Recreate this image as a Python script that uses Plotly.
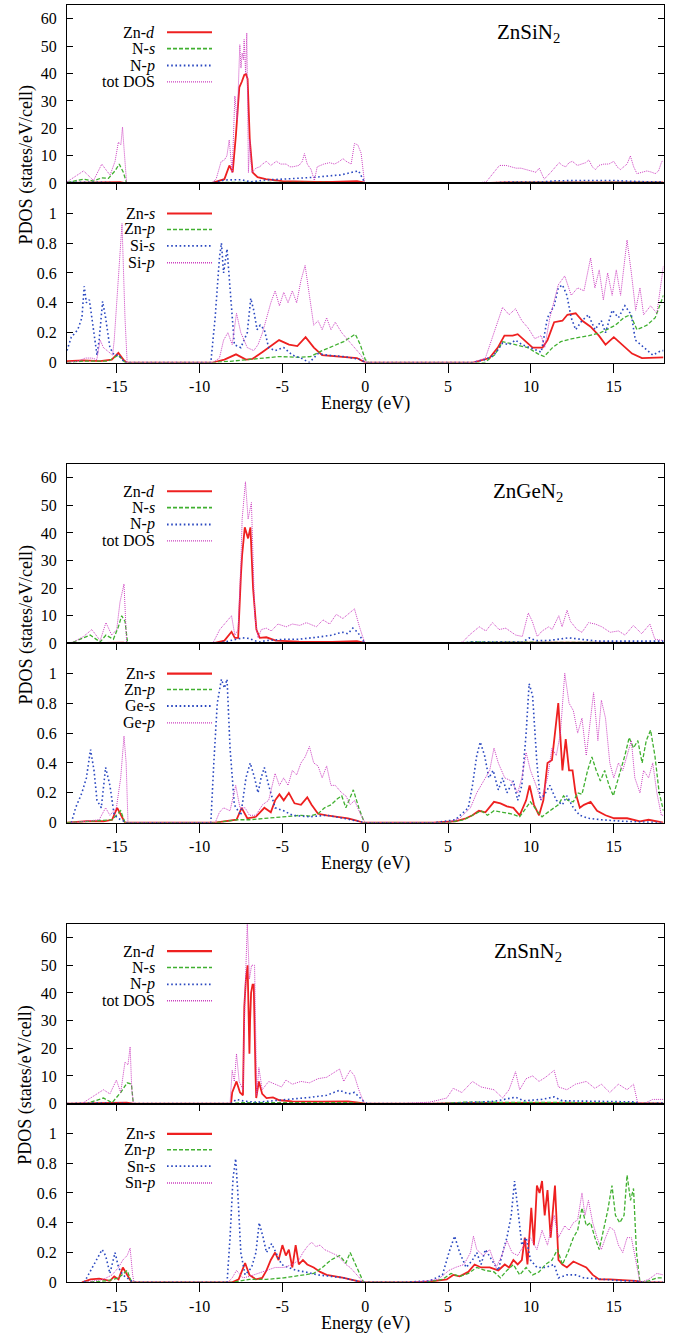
import plotly.graph_objects as go

# ---------------- data (energy eV, PDOS) ----------------
# ZnSiN2 upper panel
SI_ZN_D = [(-18,0.1),(-15.2,0.2),(-14.8,0.4),(-14.4,0),(-9.3,0),(-8.8,1.0),(-8.5,1.5),(-8.2,6.5),(-8.0,4.0),(-7.8,18),(-7.6,35),(-7.45,37),(-7.3,39.5),(-7.2,39.8),(-7.1,38),(-6.97,16),(-6.8,4),(-6.5,2.2),(-6.0,1.5),(-5.0,0.8),(-4.0,0.6),(-3.0,0.5),(-2.0,0.5),(-1.0,0.6),(-0.5,0.8),(-0.1,0.3),(0.1,0),(7.0,0),(8.5,0.3),(12,0.3),(16,0.3),(18,0.3)]
SI_N_S = [(-18,0.3),(-17.0,1.5),(-16.4,0.8),(-15.9,2.0),(-15.5,1.8),(-15.1,4.5),(-14.85,7.0),(-14.6,4),(-14.4,0),(-9.3,0),(-8.5,0.3),(-7,0.2),(-5,0.3),(-3,0.3),(-1,0.3),(-0.1,0.2),(0.1,0),(7.5,0),(9,0.3),(12,0.2),(15,0.3),(18,0.3)]
SI_N_P = [(-18,0.3),(-16,0.4),(-14.4,0),(-9.3,0),(-8.5,1.2),(-7.5,1.3),(-6.9,0.5),(-6.0,1.2),(-5.0,1.5),(-4.0,1.8),(-3.0,2.2),(-2.0,2.8),(-1.5,3.0),(-0.8,4.0),(-0.4,4.5),(-0.1,1.0),(0.1,0),(7.2,0),(8.5,0.4),(10.5,0.4),(11.5,0.9),(13,1.0),(15,1.0),(16.5,0.6),(18,0.5)]
SI_TOT = [(-18,0.5),(-17.5,2.5),(-17.0,4.5),(-16.4,1.0),(-15.9,7.0),(-15.6,4.5),(-15.4,3.0),(-15.1,8),(-14.9,15),(-14.75,14),(-14.65,20.5),(-14.55,12),(-14.4,0),(-9.3,0),(-9.0,1.5),(-8.7,7.9),(-8.5,8.5),(-8.35,10),(-8.21,15.8),(-8.03,3.9),(-7.87,31.8),(-7.73,23),(-7.57,50.5),(-7.5,42),(-7.43,47.5),(-7.35,45),(-7.31,52.4),(-7.22,40),(-7.15,54.8),(-7.05,3.9),(-6.97,16),(-6.9,8),(-6.83,3.9),(-6.6,5.5),(-6.37,6),(-6.2,7),(-5.97,8),(-5.7,6.5),(-5.37,8),(-5.1,7),(-4.77,7),(-4.55,6),(-4.37,6),(-4.0,6.5),(-3.8,8),(-3.67,10.8),(-3.5,7),(-3.27,5),(-3.07,1),(-2.9,6),(-2.5,7),(-2.15,7.5),(-1.85,7),(-1.55,8),(-1.35,9),(-1.15,8),(-0.85,7),(-0.65,14.5),(-0.45,14),(-0.25,11),(-0.05,0.5),(0.1,0),(6.5,0),(7.3,0.5),(7.7,3.5),(8.1,6.5),(8.5,6.5),(8.8,6),(9.1,5.5),(9.4,5.5),(9.7,5),(10.0,4.5),(10.3,4),(10.5,5.5),(10.8,1.5),(11.2,4),(11.5,6),(11.7,7.5),(11.9,6.5),(12.1,6),(12.3,7.5),(12.5,8),(12.8,6.5),(13.1,7),(13.3,7.5),(13.5,8.5),(13.7,6),(13.9,5),(14.1,6.5),(14.4,7),(14.7,7),(15.0,8),(15.2,6),(15.4,5),(15.6,6),(15.8,7),(16.0,10),(16.2,6),(16.4,3.5),(16.7,4),(17.0,4.5),(17.3,4),(17.5,3.5),(17.7,4.5),(17.9,8),(18,8)]
# ZnSiN2 lower panel
SI_ZN_S = [(-18,0.01),(-17,0.015),(-16,0.01),(-15.3,0.02),(-14.9,0.065),(-14.6,0.02),(-14.4,0),(-9.2,0),(-8.5,0.02),(-7.8,0.055),(-7.2,0.02),(-6.8,0.025),(-6.2,0.07),(-5.6,0.12),(-5.2,0.15),(-4.6,0.12),(-4.1,0.11),(-3.6,0.17),(-3.1,0.1),(-2.6,0.05),(-1.5,0.04),(-0.5,0.03),(0,0),(6.5,0),(7.5,0.03),(8.0,0.1),(8.4,0.18),(8.9,0.18),(9.2,0.19),(9.6,0.15),(10.1,0.1),(10.7,0.1),(11.0,0.15),(11.4,0.27),(11.9,0.28),(12.2,0.32),(12.7,0.33),(13.1,0.28),(13.6,0.24),(14.1,0.18),(14.5,0.12),(15.0,0.17),(15.5,0.12),(16.1,0.06),(16.7,0.03),(17.5,0.03),(18,0.035)]
SI_ZN_P = [(-18,0),(-17,0.01),(-15.5,0.01),(-14.9,0.05),(-14.5,0),(-9.2,0),(-8,0.01),(-7,0.02),(-6,0.03),(-5.2,0.04),(-4,0.035),(-3.3,0.04),(-2.6,0.08),(-2,0.11),(-1.3,0.14),(-0.6,0.19),(-0.3,0.12),(0,0.02),(0.2,0),(7.2,0),(7.8,0.05),(8.3,0.14),(9.0,0.12),(9.8,0.1),(10.4,0.06),(10.8,0.04),(11.3,0.1),(11.8,0.14),(12.5,0.16),(13.5,0.18),(14.2,0.2),(14.6,0.22),(15.1,0.25),(15.6,0.3),(16.0,0.32),(16.4,0.22),(17.0,0.25),(17.5,0.3),(18,0.45)]
SI_X_S = [(-18,0.08),(-17.74,0.17),(-17.35,0.22),(-17.1,0.3),(-16.96,0.51),(-16.83,0.4),(-16.65,0.42),(-16.45,0.25),(-16.19,0.05),(-16.06,0.15),(-15.85,0.41),(-15.67,0.3),(-15.41,0.1),(-15.15,0.05),(-14.9,0.05),(-14.5,0),(-9.32,0),(-9.06,0.3),(-8.8,0.7),(-8.68,0.8),(-8.55,0.6),(-8.34,0.76),(-8.16,0.5),(-7.9,0.12),(-7.51,0.1),(-7.12,0.2),(-6.91,0.43),(-6.73,0.35),(-6.53,0.22),(-6.34,0.25),(-6.09,0.22),(-5.83,0.1),(-5.44,0.08),(-4.92,0.1),(-4.4,0.05),(-3.88,0.03),(-3.37,0.0),(-2.85,0.06),(-2.33,0.05),(-1.3,0.04),(-0.26,0.02),(0,0),(6.47,0),(7.25,0.02),(7.77,0.05),(8.29,0.13),(8.68,0.12),(9.07,0.15),(9.45,0.12),(9.97,0.1),(10.62,0.07),(11.0,0.3),(11.4,0.38),(11.65,0.5),(11.9,0.52),(12.17,0.45),(12.43,0.3),(12.7,0.22),(13.08,0.28),(13.47,0.32),(13.86,0.22),(14.25,0.28),(14.5,0.2),(14.9,0.35),(15.28,0.3),(15.67,0.38),(16.06,0.32),(16.3,0.15),(16.8,0.1),(17.35,0.05),(17.87,0.08),(18,0.08)]
SI_X_P = [(-18,0),(-17.3,0.01),(-16.9,0.03),(-16.5,0.03),(-16.2,0.02),(-16.0,0.15),(-15.8,0.1),(-15.5,0.07),(-15.25,0.05),(-15.15,0.15),(-14.9,0.6),(-14.68,0.93),(-14.5,0.3),(-14.37,0),(-9.2,0),(-8.8,0.03),(-8.55,0.15),(-8.29,0.2),(-8.03,0.12),(-7.77,0.33),(-7.51,0.2),(-7.12,0.1),(-6.73,0.08),(-6.47,0.12),(-6.2,0.2),(-5.96,0.3),(-5.7,0.4),(-5.44,0.48),(-5.18,0.38),(-4.92,0.47),(-4.66,0.4),(-4.4,0.48),(-4.14,0.4),(-3.88,0.55),(-3.63,0.65),(-3.37,0.45),(-3.11,0.25),(-2.85,0.28),(-2.6,0.22),(-2.33,0.3),(-2.07,0.22),(-1.81,0.27),(-1.42,0.2),(-1.04,0.15),(-0.65,0.1),(-0.26,0.05),(0,0),(6.47,0),(7.25,0.03),(7.77,0.2),(8.29,0.37),(8.68,0.32),(9.07,0.36),(9.45,0.28),(9.84,0.23),(10.23,0.16),(10.62,0.18),(10.83,0.1),(11.14,0.3),(11.65,0.52),(12.04,0.58),(12.43,0.45),(12.82,0.5),(13.2,0.48),(13.6,0.7),(13.86,0.5),(14.12,0.62),(14.37,0.42),(14.63,0.6),(14.9,0.45),(15.15,0.62),(15.41,0.45),(15.8,0.82),(16.06,0.6),(16.32,0.35),(16.58,0.5),(16.8,0.32),(17.22,0.38),(17.6,0.33),(18,0.65)]

# ZnGeN2 upper panel
GE_ZN_D = [(-18,0),(-15,0.1),(-14.6,0.3),(-14.4,0),(-9.2,0),(-8.5,1.0),(-8.07,4.2),(-7.87,2),(-7.67,2),(-7.5,25),(-7.43,32),(-7.27,42),(-7.15,40),(-7.07,38),(-6.93,42),(-6.77,20),(-6.57,5),(-6.37,2),(-5.97,2.2),(-5.4,1),(-4,0.6),(-2,0.5),(-0.5,0.8),(-0.1,0.3),(0.1,0),(5.5,0),(7,0.2),(12,0.3),(18,0.2)]
GE_N_S = [(-18,0),(-17.6,0.5),(-16.6,3),(-16.0,0.5),(-15.65,3),(-15.2,1.5),(-14.9,6),(-14.7,10),(-14.5,8),(-14.34,0),(-9.2,0),(-8.5,0.3),(-6,0.3),(-3,0.3),(-0.5,0.3),(0,0),(5.5,0),(6.5,0.5),(8,0.5),(10,0.3),(14,0.3),(18,0.2)]
GE_N_P = [(-18,0),(-16,0.2),(-14.4,0),(-9.2,0),(-8.5,0.5),(-7.8,1.5),(-7.4,2),(-7.0,1.8),(-6.7,1),(-6.37,0.5),(-6,1),(-4.9,1.5),(-4,1.5),(-2.95,2.2),(-1.95,3),(-1.75,3.5),(-1.35,4),(-1.05,3.5),(-0.75,5.5),(-0.45,4),(-0.15,1),(0.1,0),(5.5,0),(6.5,0.5),(9.5,0.5),(9.9,2),(10.3,1),(11,1),(12.3,2),(13,1.5),(14,0.8),(18,0.8)]
GE_TOT = [(-18,0),(-17.6,0.5),(-17,2.5),(-16.5,5),(-16.0,1),(-15.65,7.5),(-15.3,3),(-15.0,5),(-14.8,15),(-14.56,21.5),(-14.4,0),(-9.2,0),(-8.78,5),(-8.37,8),(-8.07,10),(-7.87,3),(-7.67,5),(-7.5,30),(-7.43,45),(-7.23,58.5),(-7.07,45),(-6.87,51),(-6.67,10),(-6.47,2),(-6.27,5),(-5.97,5.5),(-5.67,4.5),(-5.27,7),(-4.77,6),(-4.4,7),(-3.95,6.5),(-3.55,7.5),(-2.95,6),(-2.55,8.5),(-2.15,7),(-1.75,10.5),(-1.35,9),(-0.95,11),(-0.65,12.5),(-0.35,6),(-0.05,0.5),(0.1,0),(5.5,0),(5.88,0.5),(6.28,3),(6.88,6),(7.28,4.5),(7.68,7.5),(8.08,5),(8.48,5.5),(9.08,3),(9.48,2.5),(9.84,11),(10.08,8),(10.38,2.5),(10.68,4.5),(11.08,6),(11.28,5),(11.68,10),(11.88,6),(12.18,12),(12.38,8),(12.78,5),(13.08,4),(13.48,7.5),(13.88,7),(14.28,6),(14.78,4),(15.28,4.5),(15.68,3),(16.18,6.5),(16.68,3.5),(17.18,7),(17.48,1.5),(18,1)]
# ZnGeN2 lower panel
GE_ZN_S = [(-18,0),(-16.8,0.01),(-15.8,0.01),(-15.28,0.02),(-14.97,0.1),(-14.76,0.05),(-14.5,0),(-9.06,0),(-8.29,0.01),(-7.77,0.02),(-7.46,0.1),(-7.12,0.03),(-6.6,0.04),(-6.09,0.1),(-5.7,0.07),(-5.44,0.15),(-5.18,0.19),(-4.92,0.15),(-4.61,0.2),(-4.27,0.13),(-3.88,0.12),(-3.5,0.17),(-3.24,0.12),(-2.85,0.06),(-2.33,0.05),(-1.55,0.04),(-1.04,0.03),(-0.52,0.015),(-0.13,0),(4.14,0),(5.44,0.01),(6.09,0.03),(6.47,0.05),(6.86,0.08),(7.25,0.07),(7.77,0.14),(8.16,0.13),(8.55,0.11),(8.94,0.1),(9.32,0.05),(9.71,0.15),(9.92,0.25),(10.18,0.12),(10.49,0.05),(10.75,0.15),(11.0,0.4),(11.27,0.42),(11.45,0.6),(11.65,0.8),(11.9,0.35),(12.1,0.56),(12.3,0.35),(12.51,0.35),(12.69,0.2),(12.95,0.1),(13.2,0.12),(13.6,0.14),(13.99,0.08),(14.5,0.05),(15.02,0.03),(15.8,0.03),(16.58,0.01),(17.1,0.02),(18,0)]
GE_ZN_P = [(-18,0),(-15.28,0.02),(-14.76,0.08),(-14.5,0),(-9.06,0),(-7.77,0.02),(-6.99,0.02),(-5.96,0.03),(-4.92,0.04),(-3.88,0.05),(-3.37,0.045),(-2.85,0.06),(-2.46,0.1),(-2.07,0.12),(-1.68,0.16),(-1.42,0.18),(-1.17,0.1),(-0.9,0.18),(-0.72,0.22),(-0.39,0.1),(-0.05,0),(4.92,0),(5.96,0.02),(6.47,0.05),(6.99,0.08),(7.38,0.05),(7.77,0.08),(8.29,0.07),(8.81,0.06),(9.32,0.04),(9.71,0.1),(9.97,0.14),(10.36,0.08),(10.67,0.04),(11.14,0.08),(11.65,0.12),(11.97,0.18),(12.23,0.15),(12.56,0.14),(12.82,0.2),(13.08,0.19),(13.42,0.35),(13.68,0.44),(13.94,0.35),(14.19,0.28),(14.45,0.35),(14.71,0.25),(14.97,0.18),(15.28,0.3),(15.67,0.45),(15.93,0.57),(16.19,0.5),(16.45,0.55),(16.71,0.4),(16.96,0.55),(17.22,0.62),(17.48,0.45),(17.74,0.2),(18,0.08)]
GE_X_S = [(-17.74,0),(-17.48,0.1),(-17.1,0.2),(-16.83,0.3),(-16.58,0.49),(-16.37,0.35),(-16.19,0.15),(-15.93,0.1),(-15.67,0.37),(-15.41,0.25),(-15.15,0.05),(-14.76,0.02),(-14.37,0),(-9.32,0),(-9.14,0.4),(-8.93,0.8),(-8.68,0.96),(-8.5,0.9),(-8.34,0.96),(-8.16,0.5),(-7.9,0.12),(-7.51,0.05),(-7.2,0.3),(-6.94,0.4),(-6.68,0.3),(-6.47,0.2),(-6.29,0.3),(-6.09,0.37),(-5.83,0.25),(-5.44,0.1),(-4.92,0.08),(-4.4,0.05),(-3.37,0.04),(-2.33,0.05),(-1.3,0.03),(-0.26,0.01),(0,0),(4.14,0),(5.44,0.02),(6.22,0.1),(6.47,0.25),(6.73,0.45),(6.94,0.54),(7.2,0.45),(7.46,0.3),(7.72,0.35),(8.03,0.22),(8.29,0.3),(8.55,0.2),(8.94,0.28),(9.2,0.15),(9.45,0.25),(9.71,0.6),(9.89,0.93),(10.1,0.85),(10.36,0.4),(10.57,0.15),(10.88,0.2),(11.14,0.25),(11.53,0.15),(11.9,0.12),(12.17,0.18),(12.56,0.1),(12.95,0.05),(13.47,0.03),(14.25,0.02),(15.54,0.01),(18,0)]
GE_X_P = [(-17.74,0),(-16.83,0.01),(-16.06,0.02),(-15.67,0.1),(-15.41,0.05),(-15.02,0.1),(-14.76,0.3),(-14.56,0.58),(-14.43,0.4),(-14.32,0),(-9.06,0),(-8.8,0.07),(-8.55,0.1),(-8.16,0.08),(-7.82,0.25),(-7.56,0.1),(-7.25,0.1),(-6.99,0.05),(-6.6,0.05),(-6.2,0.12),(-5.83,0.15),(-5.44,0.33),(-5.18,0.25),(-4.92,0.3),(-4.66,0.25),(-4.4,0.35),(-4.14,0.32),(-3.88,0.4),(-3.63,0.44),(-3.37,0.51),(-3.11,0.4),(-2.85,0.38),(-2.6,0.3),(-2.33,0.38),(-2.07,0.25),(-1.81,0.25),(-1.42,0.2),(-1.17,0.18),(-0.9,0.12),(-0.65,0.15),(-0.26,0.05),(0,0),(4.92,0),(5.7,0.03),(6.35,0.1),(6.73,0.2),(7.12,0.28),(7.51,0.35),(7.77,0.5),(8.03,0.4),(8.42,0.3),(8.81,0.28),(9.2,0.2),(9.45,0.3),(9.71,0.47),(9.97,0.35),(10.31,0.25),(10.62,0.15),(11.0,0.3),(11.27,0.5),(11.53,0.45),(11.78,0.6),(12.04,1.0),(12.3,0.8),(12.56,0.75),(12.82,0.6),(13.08,0.7),(13.34,0.45),(13.6,0.7),(13.78,0.87),(14.04,0.55),(14.25,0.82),(14.5,0.7),(14.76,0.4),(15.0,0.3),(15.28,0.4),(15.54,0.35),(15.8,0.45),(16.06,0.55),(16.27,0.3),(16.58,0.2),(16.8,0.35),(17.1,0.3),(17.35,0.4),(17.6,0.2),(17.87,0.05),(18,0.05)]

# ZnSnN2 upper panel
SN_ZN_D = [(-18,0),(-15,0.2),(-14.4,0.3),(-14.0,0),(-8.1,0),(-8.03,4),(-7.77,8),(-7.56,4),(-7.38,3),(-7.3,35),(-7.2,45),(-7.1,50),(-7.04,33),(-6.99,18),(-6.95,30),(-6.89,40),(-6.8,43),(-6.73,43),(-6.62,10),(-6.58,2),(-6.42,8),(-6.22,3.5),(-5.96,2),(-5.57,2.2),(-5.18,1.2),(-4.4,0.8),(-2.6,0.7),(-1.04,0.8),(-0.52,0.4),(0,0),(4,0),(6,0.2),(12,0.2),(18,0.1)]
SN_N_S = [(-18,0),(-16.83,0),(-15.8,2),(-15.28,0.3),(-14.76,4),(-14.37,7.5),(-14.11,7),(-14.0,0),(-8.1,0),(-7.5,0.3),(-4,0.3),(-1,0.3),(0,0),(4.5,0),(6,0.5),(9,0.4),(12,0.3),(16.3,0.3),(16.5,0),(18,0.1)]
SN_N_P = [(-18,0),(-16,0.2),(-14,0),(-8.1,0),(-7.77,1.5),(-7.25,0.8),(-6.5,0.5),(-5.44,1),(-4.4,1.5),(-3.37,2.2),(-2.33,3),(-1.55,4.8),(-1.04,3.5),(-0.65,4),(-0.13,1),(0.1,0),(4.9,0),(6.47,0.5),(7.77,0.8),(9.07,2.3),(9.58,1),(10.62,1.5),(11.4,2.4),(11.9,1),(14.25,0.8),(16.3,0.6),(16.5,0),(17.3,0.2),(18,0.2)]
SN_TOT = [(-18,0),(-17.1,0),(-16.58,2),(-15.8,5),(-15.41,3.5),(-15.02,8.5),(-14.76,4),(-14.5,15),(-14.32,14),(-14.19,20.5),(-14.09,5),(-13.99,0),(-8.16,0),(-8.03,12),(-7.9,8),(-7.77,18),(-7.61,8),(-7.38,5),(-7.25,40),(-7.12,65),(-6.99,45),(-6.86,50),(-6.68,50),(-6.55,3),(-6.42,13),(-6.22,5),(-5.83,8),(-5.44,7),(-5.05,6),(-4.79,8.5),(-4.4,7),(-3.88,8),(-3.37,7.5),(-2.85,9),(-2.33,9.5),(-1.81,11.5),(-1.55,12.5),(-1.3,8),(-0.91,12),(-0.65,10),(-0.39,5),(-0.13,1),(0,0),(2.33,0),(3.89,0.5),(4.92,2),(5.31,5.5),(5.83,4),(6.47,8),(6.99,6),(7.77,5),(8.29,2),(8.68,5),(9.07,11.5),(9.32,5),(9.71,9),(10.1,10),(10.49,8),(10.88,9.5),(11.4,12),(11.66,6),(12.17,5),(12.69,7),(13.34,8),(13.86,5.5),(14.25,7),(14.76,4),(15.28,7),(15.8,5),(16.19,7),(16.45,0),(16.83,0),(17.35,1.5),(18,1.5)]
# ZnSnN2 lower panel
SN_ZN_S = [(-17.1,0),(-16.58,0.02),(-16.06,0.025),(-15.41,0.01),(-15.15,0.04),(-14.89,0.02),(-14.63,0.1),(-14.37,0.05),(-14.1,0),(-8.03,0),(-7.64,0.02),(-7.25,0.13),(-6.99,0.05),(-6.6,0.02),(-6.22,0.03),(-5.96,0.08),(-5.7,0.15),(-5.44,0.2),(-5.23,0.15),(-5.0,0.25),(-4.79,0.18),(-4.61,0.22),(-4.4,0.1),(-4.2,0.25),(-4.01,0.12),(-3.76,0.15),(-3.5,0.12),(-3.11,0.1),(-2.72,0.07),(-2.33,0.05),(-1.81,0.04),(-1.3,0.03),(-0.52,0.01),(-0.1,0),(2.59,0),(3.89,0.005),(4.92,0.02),(5.31,0.05),(5.7,0.04),(6.22,0.07),(6.6,0.12),(6.99,0.1),(7.51,0.1),(8.03,0.08),(8.42,0.12),(8.68,0.1),(8.94,0.15),(9.2,0.12),(9.45,0.15),(9.63,0.3),(9.79,0.12),(10.02,0.5),(10.18,0.25),(10.36,0.65),(10.52,0.6),(10.67,0.68),(10.83,0.45),(11.0,0.62),(11.19,0.3),(11.45,0.65),(11.66,0.15),(11.9,0.12),(12.17,0.1),(12.56,0.14),(12.95,0.12),(13.34,0.1),(13.73,0.05),(14.12,0.02),(14.76,0.02),(15.54,0.015),(16.32,0.01),(16.8,0),(18,0)]
SN_ZN_P = [(-16.96,0),(-15.54,0.01),(-14.89,0.03),(-14.37,0.08),(-14.1,0),(-8.03,0),(-6.99,0.02),(-5.96,0.02),(-4.92,0.03),(-3.88,0.05),(-3.11,0.06),(-2.59,0.1),(-2.07,0.15),(-1.55,0.18),(-1.17,0.13),(-0.91,0.2),(-0.52,0.1),(-0.1,0),(3.63,0),(4.66,0.02),(5.18,0.06),(5.7,0.04),(6.22,0.06),(6.73,0.1),(7.25,0.08),(7.77,0.07),(8.16,0.03),(8.55,0.08),(8.94,0.12),(9.32,0.05),(9.71,0.1),(10.1,0.05),(10.49,0.07),(10.88,0.12),(11.27,0.15),(11.6,0.22),(11.9,0.12),(12.23,0.2),(12.56,0.3),(12.82,0.35),(13.08,0.5),(13.34,0.38),(13.6,0.4),(13.86,0.3),(14.12,0.22),(14.37,0.35),(14.63,0.48),(14.89,0.65),(15.1,0.45),(15.36,0.4),(15.62,0.45),(15.8,0.72),(16.01,0.55),(16.19,0.63),(16.37,0.2),(16.58,0),(17.1,0.01),(17.6,0.03),(18,0.03)]
SN_X_S = [(-16.96,0),(-16.58,0.08),(-16.19,0.16),(-15.88,0.22),(-15.67,0.18),(-15.41,0.06),(-15.1,0.2),(-14.89,0.1),(-14.63,0.05),(-14.24,0.02),(-14.0,0),(-8.34,0),(-8.16,0.3),(-7.98,0.7),(-7.82,0.83),(-7.69,0.6),(-7.51,0.2),(-7.25,0.05),(-6.86,0.1),(-6.6,0.2),(-6.4,0.4),(-6.16,0.3),(-5.96,0.2),(-5.65,0.26),(-5.39,0.2),(-5.05,0.12),(-4.66,0.1),(-4.14,0.08),(-3.63,0.07),(-2.85,0.05),(-2.07,0.04),(-1.3,0.03),(-0.52,0.01),(-0.1,0),(2.33,0),(3.89,0.01),(4.66,0.05),(5.05,0.2),(5.39,0.31),(5.7,0.2),(6.09,0.1),(6.47,0.15),(6.73,0.2),(6.99,0.12),(7.25,0.22),(7.64,0.15),(8.03,0.08),(8.29,0.2),(8.55,0.3),(8.81,0.45),(9.01,0.68),(9.2,0.5),(9.45,0.25),(9.71,0.3),(9.97,0.15),(10.36,0.1),(10.88,0.1),(11.4,0.12),(11.66,0.03),(12.17,0.05),(12.69,0.05),(13.2,0.03),(14.25,0.02),(15.54,0.01),(16.32,0.01),(16.8,0),(18,0)]
SN_X_P = [(-16.96,0),(-15.8,0.02),(-15.28,0.05),(-14.89,0.1),(-14.63,0.15),(-14.37,0.18),(-14.19,0.23),(-14.04,0.05),(-13.95,0),(-8.29,0),(-8.03,0.03),(-7.77,0.08),(-7.38,0.03),(-6.99,0.04),(-6.47,0.06),(-5.96,0.08),(-5.44,0.1),(-4.92,0.1),(-4.4,0.12),(-4.01,0.15),(-3.76,0.2),(-3.5,0.24),(-3.24,0.27),(-2.98,0.24),(-2.72,0.25),(-2.46,0.22),(-2.07,0.2),(-1.68,0.18),(-1.42,0.15),(-1.17,0.12),(-0.91,0.1),(-0.52,0.05),(-0.1,0),(2.85,0),(4.4,0.02),(5.05,0.08),(5.44,0.1),(5.96,0.12),(6.35,0.2),(6.53,0.31),(6.73,0.22),(7.12,0.18),(7.51,0.22),(7.9,0.1),(8.24,0.18),(8.55,0.28),(8.86,0.2),(9.2,0.18),(9.58,0.25),(9.97,0.3),(10.36,0.22),(10.67,0.35),(11.0,0.25),(11.4,0.45),(11.66,0.3),(12.04,0.38),(12.3,0.35),(12.56,0.4),(12.82,0.42),(13.08,0.6),(13.26,0.45),(13.47,0.55),(13.73,0.4),(13.99,0.3),(14.25,0.22),(14.5,0.3),(14.76,0.37),(15.02,0.35),(15.28,0.25),(15.54,0.2),(15.8,0.3),(16.06,0.3),(16.32,0.15),(16.58,0),(17.1,0.02),(17.6,0.06),(18,0.05)]

COMPOUNDS = ["ZnSiN<sub>2</sub>", "ZnGeN<sub>2</sub>", "ZnSnN<sub>2</sub>"]
UPPER_NAMES = ["Zn-<i>d</i>", "N-<i>s</i>", "N-<i>p</i>", "tot DOS"]
LOWER_NAMES = [
    ["Zn-<i>s</i>", "Zn-<i>p</i>", "Si-<i>s</i>", "Si-<i>p</i>"],
    ["Zn-<i>s</i>", "Zn-<i>p</i>", "Ge-<i>s</i>", "Ge-<i>p</i>"],
    ["Zn-<i>s</i>", "Zn-<i>p</i>", "Sn-<i>s</i>", "Sn-<i>p</i>"],
]
UPPER_DATA = [
    [SI_ZN_D, SI_N_S, SI_N_P, SI_TOT],
    [GE_ZN_D, GE_N_S, GE_N_P, GE_TOT],
    [SN_ZN_D, SN_N_S, SN_N_P, SN_TOT],
]
LOWER_DATA = [
    [SI_ZN_S, SI_ZN_P, SI_X_S, SI_X_P],
    [GE_ZN_S, GE_ZN_P, GE_X_S, GE_X_P],
    [SN_ZN_S, SN_ZN_P, SN_X_S, SN_X_P],
]
X_TICKS = [-15, -10, -5, 0, 5, 10, 15]
X_TICKTEXT = ["-15", "-10", "-5", "0", "5", "10", "15"]
UP_TICKS = [0, 10, 20, 30, 40, 50, 60]
LOW_TICKS = [0, 0.2, 0.4, 0.6, 0.8, 1.0]
LOW_TICKTEXT = ["0", "0.2", "0.4", "0.6", "0.8", "1"]

# ---------------- styling / layout ----------------
W, H = 674, 1344
FONT = "'Liberation Serif', 'Times New Roman', Times, 'DejaVu Serif', serif"
STYLES = [
    dict(color="#ee2020", width=1.8, dash="solid"),
    dict(color="#40b030", width=1.3, dash="4px,2px"),
    dict(color="#2a48c0", width=1.6, dash="1.6px,2.6px"),
    dict(color="#cc40c0", width=1.0, dash="1px,1px"),
]
TOPS = [5, 467, 930]
MIDS = [184.5, 647.7, 1111]
BOTS = [365, 828.3, 1291]
XL, XR = 67, 663.5


def py(p):
    return 1 - p / H


def px(p):
    return p / W


fig = go.Figure()
layout = dict(
    width=W, height=H, margin=dict(l=0, r=0, t=0, b=0),
    paper_bgcolor="white", plot_bgcolor="white", showlegend=False,
    font=dict(family=FONT, size=16, color="black"),
)
annotations = []
shapes = []

for k in range(3):
    iu, il = 2 * k + 1, 2 * k + 2
    for ia, data_sets, names in [(iu, UPPER_DATA[k], UPPER_NAMES), (il, LOWER_DATA[k], LOWER_NAMES[k])]:
        for j, pts in enumerate(data_sets):
            xs = [p[0] for p in pts]
            ys = [p[1] for p in pts]
            st = STYLES[j]
            fig.add_trace(go.Scatter(
                x=xs, y=ys, mode="lines", name=names[j],
                line=dict(color=st["color"], width=st["width"], dash=st["dash"]),
                xaxis="x" if ia == 1 else f"x{ia}", yaxis="y" if ia == 1 else f"y{ia}",
                hoverinfo="skip"))
    common_x = dict(range=[-18, 18], domain=[px(XL), px(XR)], showgrid=False, zeroline=False,
                    showline=True, linecolor="black", linewidth=1, mirror=True,
                    ticks="outside", tickcolor="black", tickvals=X_TICKS, ticktext=X_TICKTEXT,
                    tickfont=dict(family=FONT, size=16, color="black"))
    layout[f"xaxis{'' if iu == 1 else iu}"] = dict(common_x, anchor=f"y{'' if iu == 1 else iu}",
                                                   showticklabels=False, ticklen=6)
    layout[f"xaxis{il}"] = dict(common_x, anchor=f"y{il}", showticklabels=True, ticklen=9)
    common_y = dict(showgrid=False, zeroline=False, showline=True, linecolor="black", linewidth=1,
                    mirror="ticks", ticks="inside", ticklen=6, tickcolor="black",
                    tickfont=dict(family=FONT, size=16, color="black"), ticklabelstandoff=6)
    layout[f"yaxis{'' if iu == 1 else iu}"] = dict(common_y, anchor=f"x{'' if iu == 1 else iu}",
                                                   domain=[py(MIDS[k]), py(TOPS[k])], range=[0, 65],
                                                   tickvals=UP_TICKS)
    layout[f"yaxis{il}"] = dict(common_y, anchor=f"x{il}", domain=[py(BOTS[k]), py(MIDS[k])],
                                range=[0, 1.2], tickvals=LOW_TICKS, ticktext=LOW_TICKTEXT)

    # compound label
    annotations.append(dict(text=COMPOUNDS[k], x=px(528), y=py(TOPS[k] + 28), xref="paper", yref="paper",
                            xanchor="center", yanchor="middle", showarrow=False,
                            font=dict(family=FONT, size=21, color="black")))
    # y title
    annotations.append(dict(text="PDOS (states/eV/cell)", x=px(26), y=py(MIDS[k] - 18), xref="paper",
                            yref="paper", xanchor="center", yanchor="middle", textangle=-90,
                            showarrow=False, font=dict(family=FONT, size=18, color="black")))
    # x title
    annotations.append(dict(text="Energy (eV)", x=px((XL + XR) / 2), y=py(BOTS[k] + 41), xref="paper",
                            yref="paper", xanchor="center", yanchor="middle", showarrow=False,
                            font=dict(family=FONT, size=18, color="black")))
    # key blocks
    for rows, base, names in [([27.5, 44, 61, 77.5], TOPS[k], UPPER_NAMES),
                              ([30.5, 46.5, 63, 80], MIDS[k], LOWER_NAMES[k])]:
        for j, off in enumerate(rows):
            yy = py(base + off)
            st = STYLES[j]
            annotations.append(dict(text=names[j], x=px(157), y=yy, xref="paper", yref="paper",
                                    xanchor="right", yanchor="middle", showarrow=False,
                                    font=dict(family=FONT, size=16, color="black")))
            shapes.append(dict(type="line", xref="paper", yref="paper", x0=px(167), x1=px(212),
                               y0=yy, y1=yy, line=dict(color=st["color"], width=st["width"] + 0.3,
                                                       dash=st["dash"])))

layout["annotations"] = annotations
layout["shapes"] = shapes
fig.update_layout(**layout)
fig.write_html("out.html", config={"displayModeBar": False},
               post_script="document.body.style.margin='0px';")
